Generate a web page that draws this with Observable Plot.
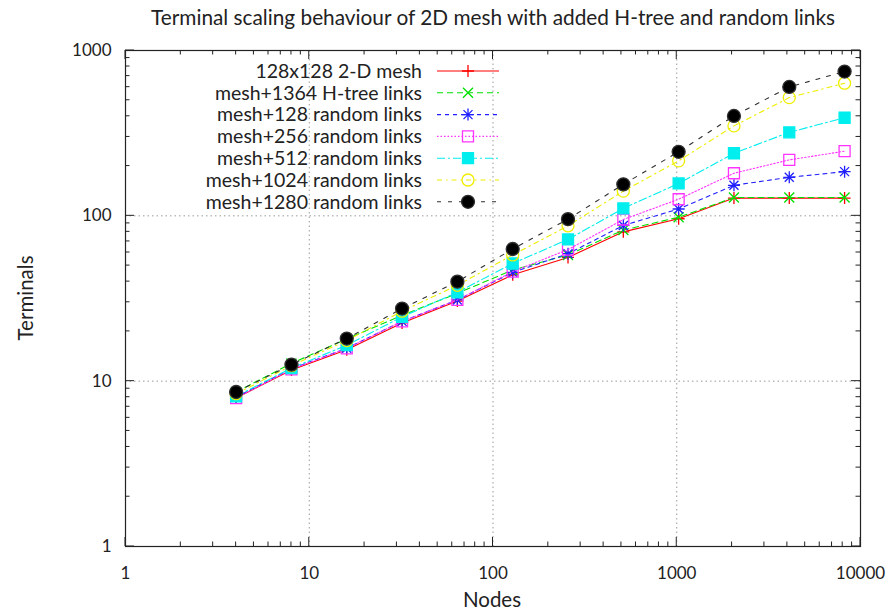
<!DOCTYPE html>
<html><head><meta charset="utf-8">
<script src="https://cdn.jsdelivr.net/npm/d3@7"></script>
<script src="https://cdn.jsdelivr.net/npm/@observablehq/plot@0.6"></script>
<style>body{margin:0;background:#fff;} #chart{width:894px;height:614px}</style>
</head><body><div id="chart"></div>
<script>
// ---- data ----
const nodes = [4, 8, 16, 32, 64, 128, 256, 512, 1024, 2048, 4096, 8192];
const seriesNames = [
  "128x128 2-D mesh",
  "mesh+1364 H-tree links",
  "mesh+128 random links",
  "mesh+256 random links",
  "mesh+512 random links",
  "mesh+1024 random links",
  "mesh+1280 random links"
];
const meshOnly   = [7.9, 11.7, 15.5, 22.5, 30.5, 44, 56, 80, 96, 128, 128, 128];
const htree1364  = [8.6, 12.8, 18.0, 25.0, 34.0, 47, 58, 82, 98, 129, 129, 129];
const random128  = [8.0, 11.9, 15.8, 23.0, 31.0, 45.5, 59, 87.5, 110, 153, 171, 185];
const random256  = [7.9, 11.8, 15.8, 23.0, 31.0, 46, 62.5, 95, 126, 181, 218, 246];
const random512  = [8.1, 12.0, 16.5, 24.5, 34.5, 51.5, 72, 111, 157, 239, 320, 392];
const random1024 = [8.4, 12.4, 17.6, 26.5, 38.0, 58, 87, 141, 215, 350, 519, 634];
const random1280 = [8.6, 12.6, 18.1, 27.5, 40.0, 63, 95.5, 155, 244, 402, 602, 746];
const seriesValues = [meshOnly, htree1364, random128, random256, random512, random1024, random1280];

const xTicks = [1, 10, 100, 1000, 10000];
const xTickLabels = ["1", "10", "100", "1000", "10000"];
const yTicks = [1, 10, 100, 1000];
const yTickLabels = ["1", "10", "100", "1000"];
const gridX = [10, 100, 1000];
const gridY = [10, 100];

// ---- styles ----
const symPlus = {draw(c, size) { const r = Math.sqrt(size / Math.PI); c.moveTo(-r, 0); c.lineTo(r, 0); c.moveTo(0, -r); c.lineTo(0, r); }};
const symTimes = {draw(c, size) { const r = Math.sqrt(size / Math.PI); c.moveTo(-r, -r); c.lineTo(r, r); c.moveTo(-r, r); c.lineTo(r, -r); }};
const symStar = {draw(c, size) { const r = Math.sqrt(size / Math.PI); const d = r * 0.75;
  c.moveTo(-r, 0); c.lineTo(r, 0); c.moveTo(0, -r); c.lineTo(0, r);
  c.moveTo(-d, -d); c.lineTo(d, d); c.moveTo(-d, d); c.lineTo(d, -d); }};
const symSquare = {draw(c, size) { const r = Math.sqrt(size / Math.PI); c.rect(-r, -r, 2 * r, 2 * r); }};
const symCircle = {draw(c, size) { const r = Math.sqrt(size / Math.PI); c.moveTo(r, 0); c.arc(0, 0, r, 0, 2 * Math.PI); }};

const styles = [
  {color: "#ff0000", dash: null,        sym: symPlus,   r: 6,   fill: "none"},
  {color: "#00e000", dash: "6,4",       sym: symTimes,  r: 5,   fill: "none"},
  {color: "#2020ff", dash: "4,4",       sym: symStar,   r: 6,   fill: "none"},
  {color: "#ff33ff", dash: "1.5,2",     sym: symSquare, r: 5.5, fill: "none"},
  {color: "#00eeee", dash: "8,3,2,3",   sym: symSquare, r: 5.5, fill: "#00eeee"},
  {color: "#eeee00", dash: "5,4,1.5,4", sym: symCircle, r: 6,   fill: "none"},
  {color: "#303030", dash: "4,7",       sym: symCircle, r: 6.5, fill: "#000000"}
];

const rows = [];
seriesNames.forEach((name, i) => nodes.forEach((x, j) => rows.push({series: i, name, x, y: seriesValues[i][j]})));

// minor tick values per decade
const minorX = [], minorY = [];
for (const d of [1, 10, 100, 1000]) for (let k = 2; k <= 9; k++) { minorX.push(d * k); if (d < 1000) minorY.push(d * k); }

const font = "Lato, 'Open Sans', sans-serif";
const marks = [
  Plot.ruleX(gridX, {x: d => d, stroke: "#9a9a9a", strokeDasharray: "1.5,3"}),
  Plot.ruleY(gridY, {y: d => d, stroke: "#9a9a9a", strokeDasharray: "1.5,3"}),
];
styles.forEach((s, i) => {
  const data = rows.filter(r => r.series === i);
  marks.push(Plot.line(data, {x: "x", y: "y", stroke: s.color, strokeWidth: 1.1, strokeDasharray: s.dash}));
  marks.push(Plot.dot(data, {x: "x", y: "y", symbol: s.sym, r: s.r, stroke: s.color, fill: s.fill, strokeWidth: 1.3}));
});
marks.push(
  Plot.frame({stroke: "#222", strokeWidth: 1.2}),
  Plot.axisX(xTicks, {anchor: "bottom", tickSize: 0, tickPadding: 20, fontSize: 17, fill: "#222",
    tickFormat: d => xTickLabels[xTicks.indexOf(d)], label: null}),
  Plot.axisY(yTicks, {anchor: "left", tickSize: 0, tickPadding: 14, fontSize: 17, fill: "#222",
    tickFormat: d => yTickLabels[yTicks.indexOf(d)], label: null})
);

const chart = Plot.plot({
  width: 894, height: 614,
  marginLeft: 125, marginRight: 34, marginTop: 50, marginBottom: 68,
  style: {fontFamily: font, fontSize: "17px", background: "#fff", color: "#222"},
  x: {type: "log", domain: [1, 10000]},
  y: {type: "log", domain: [1, 1000]},
  marks
});
document.getElementById("chart").appendChild(chart);

// inward tick marks on all four sides, placed with Plot's own scales
const sx = chart.scale("x"), sy = chart.scale("y");
const [x0, x1] = sx.range, [y0, y1] = sy.range; // y0 bottom, y1 top
const svg = d3.select(chart);
const tg = svg.append("g").attr("stroke", "#222").attr("stroke-width", 1);
const addX = (vals, len) => vals.forEach(v => {
  const px = sx.apply(v);
  tg.append("line").attr("x1", px).attr("x2", px).attr("y1", y0).attr("y2", y0 - len);
  tg.append("line").attr("x1", px).attr("x2", px).attr("y1", y1).attr("y2", y1 + len);
});
const addY = (vals, len) => vals.forEach(v => {
  const py = sy.apply(v);
  tg.append("line").attr("y1", py).attr("y2", py).attr("x1", x0).attr("x2", x0 + len);
  tg.append("line").attr("y1", py).attr("y2", py).attr("x1", x1).attr("x2", x1 - len);
});
addX(xTicks, 9); addX(minorX, 4.5); addY(yTicks, 9); addY(minorY, 4.5);

// titles
svg.append("text").attr("x", 493).attr("y", 25).attr("text-anchor", "middle")
  .attr("font-size", 20.8).attr("fill", "#222").text("Terminal scaling behaviour of 2D mesh with added H-tree and random links");
svg.append("text").attr("x", 492).attr("y", 607).attr("text-anchor", "middle")
  .attr("font-size", 20.5).attr("fill", "#222").text("Nodes");
svg.append("text").attr("transform", "translate(33,298) rotate(-90)").attr("text-anchor", "middle")
  .attr("font-size", 20.5).attr("fill", "#222").text("Terminals");

// legend
const lg = svg.append("g");
seriesNames.forEach((name, i) => {
  const s = styles[i];
  const y = 71 + i * 21.8;
  lg.append("text").attr("x", 422).attr("y", y).attr("dy", "0.35em").attr("text-anchor", "end")
    .attr("font-size", 19.5).attr("fill", "#222").text(name);
  lg.append("line").attr("x1", 437).attr("x2", 499).attr("y1", y).attr("y2", y)
    .attr("stroke", s.color).attr("stroke-width", 1.1).attr("stroke-dasharray", s.dash);
  lg.append("path").attr("transform", `translate(468,${y})`)
    .attr("d", d3.symbol(s.sym, s.r * s.r * Math.PI)())
    .attr("stroke", s.color).attr("stroke-width", 1.3).attr("fill", s.fill);
});
</script></body></html>
